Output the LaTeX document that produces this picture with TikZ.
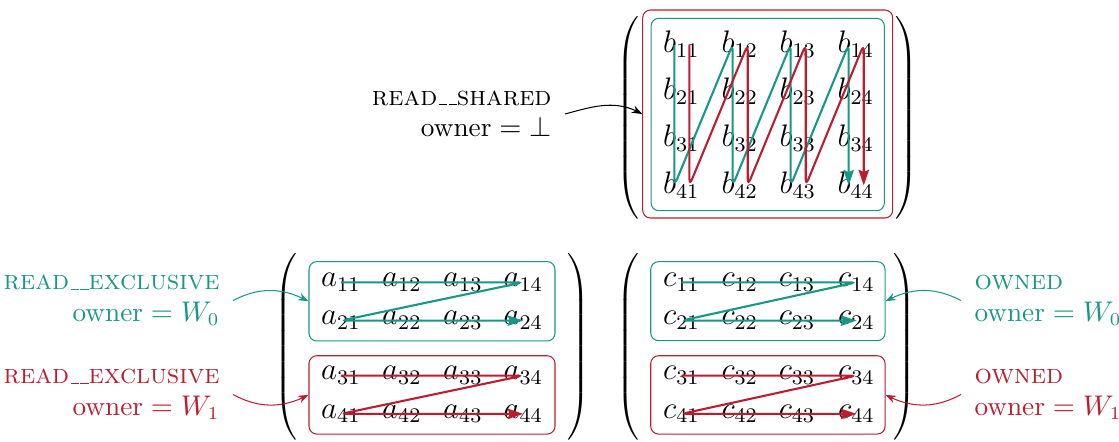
\documentclass[tikz,border=0pt]{standalone}
\usepackage{fontspec}
\usetikzlibrary{arrows.meta,bending}
\definecolor{tealc}{RGB}{22,152,132}
\definecolor{redc}{RGB}{188,28,48}
\def\pxl{0.385pt}
\newcommand\usc{\leavevmode\kern.06em\vbox{\hrule width.3em}}
\newcommand\bigparL[1]{$\delimiterfactor=1000\delimitershortfall=0pt\left(\vcenter{\hbox{\vrule height #1 depth #1 width 0pt}}\right.$}
\newcommand\bigparR[1]{$\delimiterfactor=1000\delimitershortfall=0pt\left.\vcenter{\hbox{\vrule height #1 depth #1 width 0pt}}\right)$}
\begin{document}
\begin{tikzpicture}[x=0.385pt,y=0.385pt,
  entry/.style={inner sep=0pt, anchor=base west, font=\large},
  lbl/.style={inner sep=5pt, font=\fontsize{10.5}{12.2}\selectfont},
  paren/.style={inner sep=0pt},
  box/.style={draw, rounded corners=3pt, inner sep=0pt, line width=0.4pt},
  walk/.style={line width=0.8pt, rounded corners=2.5pt, -{Stealth[length=6pt,width=4pt,inset=0.8pt]}},
  pointer/.style={line width=0.4pt, -{Stealth[length=4pt,width=3pt]}}
]
\useasboundingbox (0,0) rectangle (1119,-442);

% ---------- top matrix B ----------
\node[box, draw=redc, minimum width=250*\pxl, minimum height=208*\pxl] (Bred) at (767.7,-114) {};
\node[box, draw=tealc, minimum width=233.3*\pxl, minimum height=192.4*\pxl] (Bteal) at (767.7,-114.5) {};
\foreach \i/\y in {1/53,2/100,3/147,4/194}
  \foreach \j/\x in {1/662.7,2/721,3/779,4/837}
    \node[entry] (b-\i-\j) at (\x,-\y) {$b_{\i\j}$};
\node[paren] (pBl) at (629,-118) {\bigparL{39pt}};
\node[paren] (pBr) at (905,-118) {\bigparR{39pt}};

\draw[walk, tealc]
  ([xshift=-2.7pt]b-1-1.center) -- ([xshift=-2.7pt]b-4-1.center) --
  ([xshift=-2.7pt]b-1-2.center) -- ([xshift=-2.7pt]b-4-2.center) --
  ([xshift=-2.7pt]b-1-3.center) -- ([xshift=-2.7pt]b-4-3.center) --
  ([xshift=-2.7pt]b-1-4.center) -- ([xshift=-2.7pt]b-4-4.center);
\draw[walk, redc]
  ([xshift=3.1pt]b-1-1.center) -- ([xshift=3.1pt]b-4-1.center) --
  ([xshift=3.1pt]b-1-2.center) -- ([xshift=3.1pt]b-4-2.center) --
  ([xshift=3.1pt]b-1-3.center) -- ([xshift=3.1pt]b-4-3.center) --
  ([xshift=3.1pt]b-1-4.center) -- ([xshift=3.1pt]b-4-4.center);

\node[lbl, anchor=east, align=right] (lB) at (565,-114) {\textsc{read\usc\usc shared}\\ owner${}=\bot$};
\draw[pointer] (lB.east) to[out=15,in=150] (Bred.west);

% ---------- bottom matrix A ----------
\node[box, draw=tealc, minimum width=246*\pxl, minimum height=79.3*\pxl] (Ateal) at (432,-301.3) {};
\node[box, draw=redc, minimum width=246*\pxl, minimum height=78.3*\pxl] (Ared) at (432,-394.9) {};
\foreach \i/\y in {1/286.7,2/325,3/380,4/418.3}
  \foreach \j/\x in {1/320.7,2/381.7,3/442.7,4/503}
    \node[entry] (a-\i-\j) at (\x,-\y) {$a_{\i\j}$};
\node[paren] (pAl) at (287,-346.5) {\bigparL{36pt}};
\node[paren] (pAr) at (577,-346.5) {\bigparR{36pt}};
\draw[walk, tealc] (a-1-1.center) -- (a-1-4.center) -- (a-2-1.center) -- (a-2-4.center);
\draw[walk, redc] (a-3-1.center) -- (a-3-4.center) -- (a-4-1.center) -- (a-4-4.center);

\node[lbl, anchor=east, align=right, text=tealc] (lA0) at (233,-300.5) {\textsc{read\usc\usc exclusive}\\ owner${}=W_0$};
\node[lbl, anchor=east, align=right, text=redc] (lA1) at (233,-394.5) {\textsc{read\usc\usc exclusive}\\ owner${}=W_1$};
\draw[pointer, tealc] (lA0.east) to[bend left=28] (Ateal.west);
\draw[pointer, redc] (lA1.east) to[bend right=28] (Ared.west);

% ---------- bottom matrix C ----------
\node[box, draw=tealc, minimum width=234.3*\pxl, minimum height=79*\pxl] (Cteal) at (767.9,-301.2) {};
\node[box, draw=redc, minimum width=234.3*\pxl, minimum height=78.3*\pxl] (Cred) at (767.9,-394.9) {};
\foreach \i/\y in {1/286.7,2/325,3/380,4/418.3}
  \foreach \j/\x in {1/662.7,2/721,3/778.3,4/837.7}
    \node[entry] (c-\i-\j) at (\x,-\y) {$c_{\i\j}$};
\node[paren] (pCl) at (629,-346.5) {\bigparL{36pt}};
\node[paren] (pCr) at (903.5,-346.5) {\bigparR{36pt}};
\draw[walk, tealc] (c-1-1.center) -- (c-1-4.center) -- (c-2-1.center) -- (c-2-4.center);
\draw[walk, redc] (c-3-1.center) -- (c-3-4.center) -- (c-4-1.center) -- (c-4-4.center);

\node[lbl, anchor=west, align=left, text=tealc] (lC0) at (961,-300.5) {\textsc{owned}\\ owner${}=W_0$};
\node[lbl, anchor=west, align=left, text=redc] (lC1) at (961,-394.5) {\textsc{owned}\\ owner${}=W_1$};
\draw[pointer, tealc] (lC0.west) to[bend right=28] (Cteal.east);
\draw[pointer, redc] (lC1.west) to[bend left=28] (Cred.east);
\end{tikzpicture}
\end{document}
